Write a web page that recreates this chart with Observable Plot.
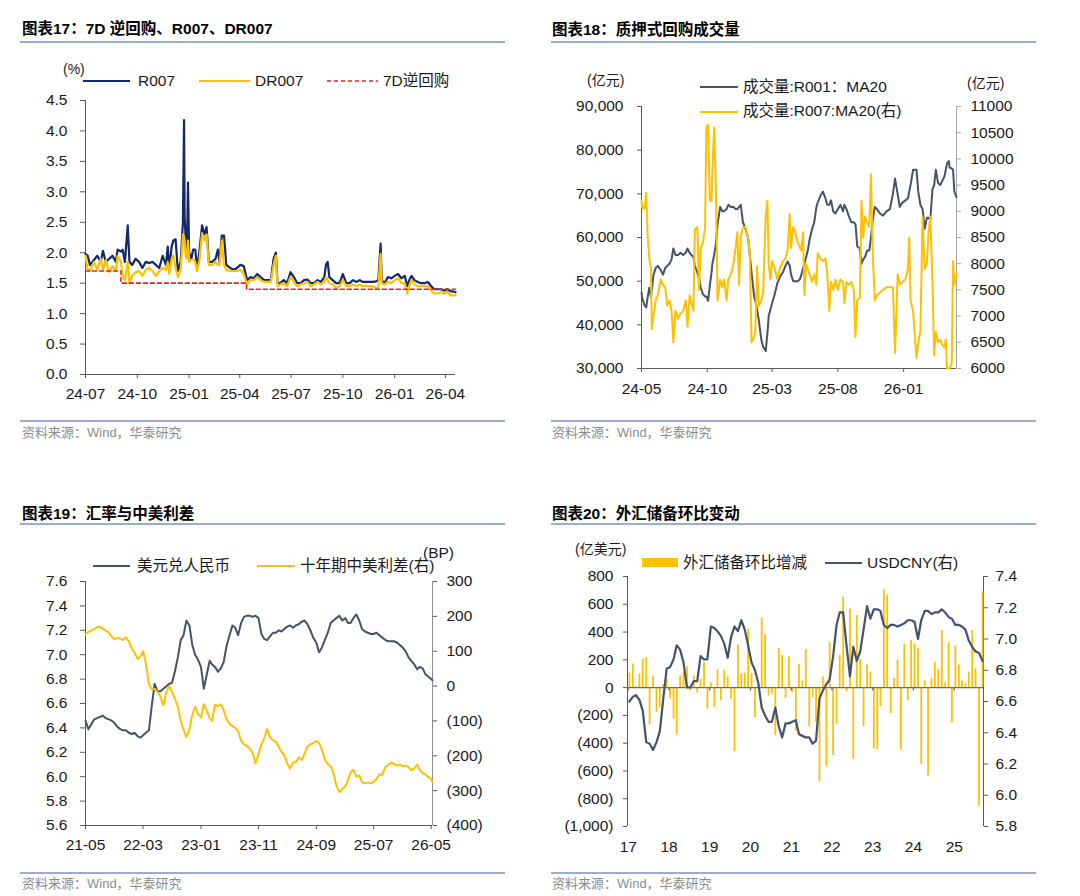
<!DOCTYPE html>
<html>
<head>
<meta charset="utf-8">
<script src="https://cdn.jsdelivr.net/npm/d3@7"></script>
<script src="https://cdn.jsdelivr.net/npm/@observablehq/plot@0.6"></script>
<style>
  html, body { margin: 0; background: #fff; }
  #page { position: relative; width: 1080px; height: 896px; overflow: hidden;
          font-family: "Liberation Sans", Arial, "Noto Sans CJK SC", sans-serif; color: #1a1a1a; }
</style>
</head>
<body>
<div id="page"></div>
<script>
// ---------------- 图表17: 7D逆回购、R007、DR007 (%) ----------------
const p1Dates = ["2024-07-01","2024-07-05","2024-07-09","2024-07-16","2024-07-22","2024-07-28","2024-08-01","2024-08-06","2024-08-12","2024-08-18","2024-08-24","2024-08-27",
"2024-09-02","2024-09-05","2024-09-09","2024-09-14","2024-09-17","2024-09-22","2024-09-28",
"2024-10-04","2024-10-10","2024-10-16","2024-10-22","2024-10-28",
"2024-11-03","2024-11-09","2024-11-15","2024-11-21","2024-11-24","2024-11-27",
"2024-12-01","2024-12-04","2024-12-08","2024-12-12","2024-12-17","2024-12-21","2024-12-23","2024-12-24","2024-12-26","2024-12-28","2024-12-30",
"2025-01-01","2025-01-05","2025-01-08","2025-01-12","2025-01-15","2025-01-19","2025-01-24","2025-01-28",
"2025-02-01","2025-02-05","2025-02-11","2025-02-17","2025-02-21","2025-02-24","2025-02-28",
"2025-03-04","2025-03-08","2025-03-15","2025-03-21","2025-03-27",
"2025-04-02","2025-04-08","2025-04-14","2025-04-20","2025-04-26",
"2025-05-02","2025-05-08","2025-05-14","2025-05-20","2025-05-26","2025-05-31",
"2025-06-04","2025-06-07","2025-06-12","2025-06-18","2025-06-24","2025-06-30",
"2025-07-06","2025-07-12","2025-07-18","2025-07-24","2025-07-30",
"2025-08-05","2025-08-11","2025-08-17","2025-08-23","2025-08-29",
"2025-09-01","2025-09-04","2025-09-07","2025-09-13","2025-09-19","2025-09-25",
"2025-10-01","2025-10-07","2025-10-13","2025-10-19","2025-10-25","2025-10-31",
"2025-11-05","2025-11-11","2025-11-17","2025-11-23","2025-11-29",
"2025-12-03","2025-12-07","2025-12-09","2025-12-14","2025-12-20","2025-12-26",
"2026-01-01","2026-01-07","2026-01-13","2026-01-19","2026-01-23","2026-01-27","2026-01-31",
"2026-02-05","2026-02-11","2026-02-17","2026-02-23",
"2026-03-01","2026-03-07","2026-03-12","2026-03-18","2026-03-24","2026-03-30",
"2026-04-04","2026-04-10","2026-04-16","2026-04-19"];
const r007 = [1.98,1.95,1.80,1.88,1.95,1.85,2.03,1.85,1.90,1.95,1.85,2.05,
2.02,2.05,1.85,2.45,1.85,1.80,1.90,
1.85,1.75,1.85,1.83,1.85,
1.80,1.75,1.95,1.80,2.10,1.75,
2.10,2.20,2.22,1.70,1.85,2.50,4.18,2.60,2.20,1.95,3.15,
2.00,1.90,2.05,2.05,1.75,2.00,2.45,2.30,
2.42,1.85,1.85,1.90,2.05,1.85,2.28,
2.28,1.80,1.75,1.72,1.75,
1.80,1.78,1.55,1.60,1.58,
1.65,1.60,1.55,1.55,1.55,1.90,
2.00,1.50,1.50,1.55,1.50,1.68,
1.60,1.50,1.50,1.55,1.56,
1.50,1.50,1.55,1.52,1.60,
1.80,1.85,1.60,1.55,1.50,1.50,
1.65,1.50,1.50,1.55,1.52,1.55,
1.52,1.52,1.52,1.52,1.53,
1.55,2.15,1.55,1.50,1.60,1.58,
1.62,1.65,1.58,1.62,1.45,1.55,1.62,
1.55,1.52,1.50,1.50,
1.52,1.45,1.40,1.40,1.40,1.38,
1.40,1.37,1.36,1.35];
const dr007 = [1.95,1.72,1.70,1.85,1.72,1.90,1.72,1.88,1.68,1.78,1.70,1.95,
1.85,1.62,1.55,1.85,1.50,1.62,1.68,
1.70,1.62,1.72,1.75,1.70,
1.62,1.70,1.75,1.72,1.85,1.65,
1.90,1.95,1.75,1.60,1.72,2.30,2.25,2.20,1.95,1.90,2.20,
1.85,1.88,1.90,1.85,1.70,1.85,2.32,2.20,
2.30,1.80,1.80,1.85,1.80,1.80,2.20,
1.80,1.72,1.70,1.70,1.70,
1.72,1.65,1.48,1.55,1.55,
1.60,1.55,1.52,1.52,1.52,1.80,
1.95,1.45,1.48,1.50,1.45,1.60,
1.52,1.45,1.48,1.50,1.52,
1.45,1.48,1.52,1.48,1.52,
1.60,1.55,1.50,1.48,1.42,1.45,
1.55,1.45,1.45,1.48,1.45,1.48,
1.45,1.46,1.45,1.45,1.42,
1.42,1.98,1.50,1.48,1.52,1.50,
1.55,1.58,1.50,1.50,1.33,1.45,1.55,
1.48,1.45,1.45,1.45,
1.45,1.38,1.33,1.33,1.35,1.33,
1.36,1.30,1.30,1.30];
const rrDates = ["2024-07-01","2024-09-02","2025-04-13","2026-04-19"];
const rrRates = [1.7, 1.5, 1.4, 1.4];
const p1Span = ["2024-07-01","2026-04-19"];
const p1Ticks = ["2024-07-01","2024-10-01","2025-01-01","2025-04-01","2025-07-01","2025-10-01","2026-01-01","2026-04-01"];
const p1YTicks = [0,0.5,1.0,1.5,2.0,2.5,3.0,3.5,4.0,4.5];

// ---------------- 图表18: 质押式回购成交量 (亿元) ----------------
const p2Dates = ["2024-05-01","2024-05-03","2024-05-08","2024-05-12","2024-05-15","2024-05-19","2024-05-23","2024-05-25","2024-05-29","2024-06-03",
"2024-06-08","2024-06-15","2024-06-20","2024-06-25","2024-06-30","2024-07-05","2024-07-10","2024-07-14","2024-07-19","2024-07-25",
"2024-07-31","2024-08-06","2024-08-12","2024-08-16","2024-08-21","2024-08-25","2024-08-30","2024-09-02","2024-09-08","2024-09-12",
"2024-09-16","2024-09-21","2024-09-26","2024-09-29","2024-10-03","2024-10-07","2024-10-11","2024-10-13","2024-10-17","2024-10-21",
"2024-10-25","2024-10-31","2024-11-05","2024-11-09","2024-11-15","2024-11-19","2024-11-25","2024-12-01","2024-12-06","2024-12-10",
"2024-12-14","2024-12-18","2024-12-23","2024-12-29","2025-01-04","2025-01-08","2025-01-12","2025-01-18","2025-01-21","2025-01-25",
"2025-01-29","2025-02-04","2025-02-08","2025-02-14","2025-02-18","2025-02-21","2025-02-25","2025-03-01","2025-03-07","2025-03-13",
"2025-03-19","2025-03-26","2025-04-01","2025-04-06","2025-04-11","2025-04-14","2025-04-19","2025-04-24","2025-04-30","2025-05-05",
"2025-05-08","2025-05-12","2025-05-15","2025-05-19","2025-05-23","2025-05-27","2025-06-02","2025-06-07","2025-06-12","2025-06-15",
"2025-06-21","2025-06-27","2025-07-03","2025-07-07","2025-07-12","2025-07-16","2025-07-21","2025-07-26","2025-08-01","2025-08-07",
"2025-08-13","2025-08-16","2025-08-21","2025-08-26","2025-09-01","2025-09-07","2025-09-11","2025-09-15","2025-09-21","2025-09-25",
"2025-09-29","2025-10-03","2025-10-08","2025-10-13","2025-10-17","2025-10-21","2025-10-26","2025-10-31","2025-11-07","2025-11-14",
"2025-11-22","2025-11-30","2025-12-07","2025-12-12","2025-12-18","2025-12-23","2025-12-29","2026-01-05","2026-01-11","2026-01-14",
"2026-01-17","2026-01-23","2026-01-28","2026-01-31","2026-02-04","2026-02-09","2026-02-14","2026-02-19","2026-02-24","2026-02-28",
"2026-03-04","2026-03-09","2026-03-13","2026-03-17","2026-03-22","2026-03-27","2026-04-01","2026-04-06","2026-04-09","2026-04-12",
"2026-04-16","2026-04-18","2026-04-23","2026-04-26","2026-04-29","2026-05-04"];
const r001Ma20 = [47400,46000,44500,44000,46000,48500,46500,48000,51500,53000,
53500,52500,51500,53000,53500,54000,55000,57500,56000,56000,
56500,56000,56500,57500,56500,56000,55500,53500,52000,50500,
48500,47000,46500,46500,45500,49000,52000,54000,56000,58500,
63000,67000,66000,66000,66500,67500,67000,67000,66500,66500,
67000,67500,63500,62000,60000,56000,52000,46500,45500,43500,
41000,36500,35000,34000,38000,42000,43500,45000,47000,49500,
51000,52000,53500,54500,53500,51500,50000,50000,50000,50500,
51500,53000,54000,55500,57000,59500,62000,63500,67000,68000,
69500,70500,69000,67500,67500,68500,66000,65500,66500,67500,
66000,67500,66500,65000,63500,63500,63000,58000,57500,54000,
55000,55500,57000,57000,60000,64000,67000,66500,65500,65000,
66000,66500,70000,73500,70000,67000,68000,68500,69000,70500,
72000,75500,75500,75500,70500,67500,66500,62000,64500,64500,
64000,71000,72000,75500,72500,72000,73000,74000,75500,77000,
77500,76000,75800,75500,70500,69300];
const r007Ma20 = [9200,9050,9050,9350,8600,8100,7900,6750,7000,7300,
7400,7700,7600,7550,7200,7300,7100,6500,7100,6950,
7050,7100,7300,6800,7400,7250,7100,8650,8700,7500,
8300,8400,8700,10600,10650,9200,9200,9800,10600,9500,
7300,7700,7550,7700,7300,7700,7800,8000,8300,8600,
7600,8500,8700,8700,8500,8200,6500,6600,6700,7950,
7200,7300,7450,8900,9200,8000,7700,8050,7900,7700,
7900,8050,8100,8250,8950,8300,8700,8600,8400,8300,
8250,8600,7400,8000,7900,7800,7650,7800,7600,8200,
8100,8050,8100,7850,7100,7650,7500,7700,7500,7700,
7650,7250,7650,7600,7650,7500,6600,7300,7350,9200,
8500,8900,8800,8700,9700,8200,7300,7400,7450,7500,
7550,7550,7550,6300,7800,7600,7650,7700,7900,8500,
7300,7100,6500,6200,6500,6700,8900,7900,8000,8600,
8900,7700,6250,6700,6500,6550,6450,6400,6550,6000,
6000,6000,6100,8050,7600,7800];
const p2Span = ["2024-05-01","2026-05-04"];
const p2Ticks = ["2024-05-01","2024-10-01","2025-03-01","2025-08-01","2026-01-01"];
const p2LeftTicks = [30000,40000,50000,60000,70000,80000,90000];
const p2RightTicks = [6000,6500,7000,7500,8000,8500,9000,9500,10000,10500,11000];

// ---------------- 图表19: 汇率与中美利差 ----------------
const p3Dates = ["2021-05-01","2021-05-16","2021-06-01","2021-06-16","2021-07-01","2021-07-16","2021-08-01","2021-08-16","2021-09-01","2021-09-16","2021-10-01","2021-10-16","2021-11-01","2021-11-16","2021-12-01","2021-12-16",
"2022-01-01","2022-01-16","2022-02-01","2022-02-16","2022-03-01","2022-03-16","2022-04-01","2022-04-16","2022-05-01","2022-05-16","2022-06-01","2022-06-16","2022-07-01","2022-07-16","2022-08-01","2022-08-16","2022-09-01","2022-09-16","2022-10-01","2022-10-16","2022-11-01","2022-11-16","2022-12-01","2022-12-16",
"2023-01-01","2023-01-16","2023-02-01","2023-02-16","2023-03-01","2023-03-16","2023-04-01","2023-04-16","2023-05-01","2023-05-16","2023-06-01","2023-06-16","2023-07-01","2023-07-16","2023-08-01","2023-08-16","2023-09-01","2023-09-16","2023-10-01","2023-10-16","2023-11-01","2023-11-16","2023-12-01","2023-12-16",
"2024-01-01","2024-01-16","2024-02-01","2024-02-16","2024-03-01","2024-03-16","2024-04-01","2024-04-16","2024-05-01","2024-05-16","2024-06-01","2024-06-16","2024-07-01","2024-07-16","2024-08-01","2024-08-16","2024-09-01","2024-09-16","2024-10-01","2024-10-16","2024-11-01","2024-11-16","2024-12-01","2024-12-16",
"2025-01-01","2025-01-16","2025-02-01","2025-02-16","2025-03-01","2025-03-16","2025-04-01","2025-04-16","2025-05-01","2025-05-16","2025-06-01","2025-06-16","2025-07-01","2025-07-16","2025-08-01","2025-08-16","2025-09-01","2025-09-16","2025-10-01","2025-10-16","2025-11-01","2025-11-16","2025-12-01","2025-12-16",
"2026-01-01","2026-01-16","2026-02-01","2026-02-16","2026-03-01","2026-03-16","2026-04-01","2026-04-16","2026-05-01","2026-05-08"];
const usdCny = [6.46,6.39,6.43,6.47,6.48,6.49,6.50,6.48,6.47,6.46,
6.44,6.41,6.39,6.38,6.38,6.36,6.35,6.36,6.33,6.32,
6.34,6.36,6.38,6.58,6.76,6.70,6.70,6.72,6.74,6.76,
6.77,6.86,6.98,7.12,7.16,7.28,7.24,7.08,7.00,6.96,
6.90,6.72,6.84,6.95,6.92,6.90,6.86,6.89,6.94,7.07,
7.16,7.24,7.22,7.16,7.26,7.31,7.32,7.32,7.31,7.32,
7.30,7.17,7.13,7.12,7.15,7.18,7.18,7.20,7.19,7.21,
7.23,7.24,7.22,7.24,7.25,7.27,7.28,7.25,7.20,7.14,
7.10,7.02,7.06,7.12,7.18,7.26,7.28,7.30,7.32,7.28,
7.30,7.26,7.26,7.30,7.33,7.28,7.21,7.19,7.18,7.17,
7.17,7.18,7.16,7.14,7.12,7.11,7.11,7.11,7.10,7.08,
7.06,7.03,6.98,6.95,6.92,6.88,6.90,6.89,6.84,6.82,
6.80,6.79];
const cnUsSpread10y = [149,155,160,164,168,170,164,159,154,142,
135,138,136,132,140,128,108,95,78,85,
100,65,6,-9,-8,-16,-30,-55,-20,0,
-16,-35,-60,-100,-125,-146,-125,-82,-60,-80,
-90,-52,-72,-92,-100,-53,-58,-52,-70,-95,
-108,-115,-120,-130,-156,-167,-172,-180,-192,-222,
-195,-168,-150,-123,-147,-155,-160,-175,-188,-198,
-223,-237,-220,-218,-205,-212,-195,-174,-167,-164,
-158,-163,-183,-211,-224,-230,-250,-285,-305,-295,
-288,-270,-248,-240,-260,-256,-276,-279,-277,-279,
-274,-267,-253,-255,-232,-226,-220,-223,-228,-224,
-230,-229,-232,-242,-236,-225,-240,-250,-253,-261,
-266,-276];
const p3Span = ["2021-05-01","2026-05-08"];
const p3Ticks = ["2021-05-01","2022-03-01","2023-01-01","2023-11-01","2024-09-01","2025-07-01","2026-05-01"];
const p3LeftTicks = [5.6,5.8,6.0,6.2,6.4,6.6,6.8,7.0,7.2,7.4,7.6];
const p3RightTicks = [-400,-300,-200,-100,0,100,200,300];

// ---------------- 图表20: 外汇储备环比变动 ----------------
const fxMonths = ["2017-01","2017-02","2017-03","2017-04","2017-05","2017-06","2017-07","2017-08","2017-09","2017-10","2017-11","2017-12",
"2018-01","2018-02","2018-03","2018-04","2018-05","2018-06","2018-07","2018-08","2018-09","2018-10","2018-11","2018-12",
"2019-01","2019-02","2019-03","2019-04","2019-05","2019-06","2019-07","2019-08","2019-09","2019-10","2019-11","2019-12",
"2020-01","2020-02","2020-03","2020-04","2020-05","2020-06","2020-07","2020-08","2020-09","2020-10","2020-11","2020-12",
"2021-01","2021-02","2021-03","2021-04","2021-05","2021-06","2021-07","2021-08","2021-09","2021-10","2021-11","2021-12",
"2022-01","2022-02","2022-03","2022-04","2022-05","2022-06","2022-07","2022-08","2022-09","2022-10","2022-11","2022-12",
"2023-01","2023-02","2023-03","2023-04","2023-05","2023-06","2023-07","2023-08","2023-09","2023-10","2023-11","2023-12",
"2024-01","2024-02","2024-03","2024-04","2024-05","2024-06","2024-07","2024-08","2024-09","2024-10","2024-11","2024-12",
"2025-01","2025-02","2025-03","2025-04","2025-05","2025-06","2025-07","2025-08","2025-09"];
const fxReserveChg = [105,170,8,98,205,215,-270,84,-180,-142,
20,58,-82,-228,-340,84,108,150,-25,84,
-38,60,182,-155,36,-143,131,-96,124,76,
-84,-461,306,100,105,418,100,-215,5,502,
382,-60,-48,-347,282,232,-76,220,-36,-315,
167,48,275,-282,-76,-250,-681,76,-566,327,
-490,-263,232,650,-30,566,-514,520,203,-280,
163,112,-442,-449,-136,705,662,-186,65,198,
-447,311,-96,339,315,280,-552,48,-636,67,
182,131,411,33,323,-251,299,163,48,29,
112,411,136,-850,690];
const fxUsdCny = [6.60,6.63,6.64,6.61,6.54,6.34,6.33,6.29,6.34,6.41,
6.62,6.81,6.82,6.87,6.96,6.93,6.85,6.69,6.69,6.73,
6.73,6.89,6.87,6.87,7.08,7.07,7.05,7.02,6.97,6.88,
7.01,7.08,7.05,7.12,7.06,6.96,6.85,6.80,6.72,6.56,
6.51,6.47,6.47,6.56,6.44,6.37,6.46,6.46,6.47,6.48,
6.39,6.38,6.37,6.37,6.33,6.35,6.62,6.67,6.71,6.74,
6.89,7.09,7.17,7.17,6.96,6.76,6.95,6.86,6.92,7.06,
7.21,7.13,7.19,7.19,7.18,7.09,7.07,7.09,7.09,7.08,
7.09,7.10,7.12,7.12,7.11,7.00,7.12,7.18,7.18,7.16,
7.17,7.17,7.19,7.17,7.14,7.13,7.09,7.09,7.08,7.06,
6.99,6.95,6.92,6.91,6.86];
const p4Span = ["2016-12-25","2025-09-20"];
const p4Ticks = ["2017-01-01","2018-01-01","2019-01-01","2020-01-01","2021-01-01","2022-01-01","2023-01-01","2024-01-01","2025-01-01"];
const p4LeftTicks = [-1000,-800,-600,-400,-200,0,200,400,600,800];
const p4RightTicks = [5.8,6.0,6.2,6.4,6.6,6.8,7.0,7.2,7.4];

// ---------------- styling ----------------
const NAVY = "#14296b", GOLD = "#ffc000", RED = "#e0262b", SLATE = "#44546a";
const AXIS = "#595959", AXIS_LIGHT = "#a6a6a6", RULE = "#98aecb";
const FONT = "'Liberation Sans', Arial, 'Noto Sans CJK SC', sans-serif";
const plotStyle = {fontFamily: FONT, fontSize: "15.5px", color: "#1a1a1a", background: "none", overflow: "visible"};
const ym = d3.utcFormat("%y-%m");
const acct = d3.format(",");
const fmtAcct = v => v < 0 ? `(${acct(-v)})` : acct(v);
const asDates = a => a.map(s => new Date(s));

const page = document.getElementById("page");
function put(el, x, y) {
  el.style.position = "absolute";
  el.style.left = x + "px";
  el.style.top = y + "px";
  page.appendChild(el);
  return el;
}
function text(str, x, cy, {size = 15.5, color = "#1a1a1a", weight = 400} = {}) {
  const d = document.createElement("div");
  d.textContent = str;
  d.style.cssText = `font-size:${size}px;line-height:${size * 1.2}px;color:${color};font-weight:${weight};white-space:nowrap;`;
  return put(d, x, cy - size * 0.6);
}
function hline(x1, x2, y, color, width = 2) {
  const d = document.createElement("div");
  d.style.cssText = `width:${x2 - x1}px;height:${width}px;background:${color};`;
  return put(d, x1, y - width / 2);
}
function swatch(x1, x2, y, color, {width = 2, dash = null} = {}) {
  const ns = "http://www.w3.org/2000/svg";
  const s = document.createElementNS(ns, "svg");
  s.setAttribute("width", x2 - x1);
  s.setAttribute("height", 6);
  const l = document.createElementNS(ns, "line");
  l.setAttribute("x1", 0); l.setAttribute("x2", x2 - x1);
  l.setAttribute("y1", 3); l.setAttribute("y2", 3);
  l.setAttribute("stroke", color); l.setAttribute("stroke-width", width);
  if (dash) l.setAttribute("stroke-dasharray", dash);
  s.appendChild(l);
  return put(s, x1, y - 3);
}
function box(x, y, w, h, color) {
  const d = document.createElement("div");
  d.style.cssText = `width:${w}px;height:${h}px;background:${color};`;
  return put(d, x, y);
}
function place(svg, x, y, w) {
  const d = document.createElement("div");
  d.style.width = w + "px";
  d.appendChild(svg);
  return put(d, x, y);
}

// ---------------- chart 17 ----------------
{
  const rows = p1Dates.map((d, i) => ({date: new Date(d), r007: r007[i], dr007: dr007[i]}));
  const rr = rrDates.map((d, i) => ({date: new Date(d), rate: rrRates[i]}));
  const xd = asDates(p1Span);
  const chart = Plot.plot({
    width: 540, height: 370, marginLeft: 85, marginRight: 85, marginTop: 50, marginBottom: 46,
    style: plotStyle,
    x: {type: "utc", domain: xd},
    y: {domain: [0, 4.5]},
    marks: [
      Plot.axisY({ticks: p1YTicks, tickSize: 5, tickPadding: 13, tickFormat: d3.format(".1f"), label: null, stroke: AXIS}),
      Plot.axisX({ticks: asDates(p1Ticks), tickSize: 4, tickPadding: 9, tickFormat: ym, label: null, stroke: AXIS}),
      Plot.ruleX([xd[0]], {stroke: AXIS}),
      Plot.ruleY([0], {stroke: AXIS}),
      Plot.line(rows, {x: "date", y: "r007", stroke: NAVY, strokeWidth: 2.2}),
      Plot.line(rows, {x: "date", y: "dr007", stroke: GOLD, strokeWidth: 2.2}),
      Plot.line(rr, {x: "date", y: "rate", curve: "step-after", stroke: RED, strokeWidth: 1.6, strokeDasharray: "4,3"})
    ]
  });
  place(chart, 0, 50, 540);
}

// ---------------- chart 18 ----------------
{
  const rows = p2Dates.map((d, i) => ({date: new Date(d), r001: r001Ma20[i], r007: r007Ma20[i]}));
  const xd = asDates(p2Span);
  const leftDom = d3.extent(p2LeftTicks), rightDom = d3.extent(p2RightTicks);
  const toLeft = d3.scaleLinear(rightDom, leftDom); // right-axis units → left-axis units
  const chart = Plot.plot({
    width: 540, height: 370, marginLeft: 101, marginRight: 124, marginTop: 56, marginBottom: 52,
    style: plotStyle,
    x: {type: "utc", domain: xd},
    y: {domain: leftDom},
    marks: [
      Plot.axisY({ticks: p2LeftTicks, tickSize: 4, tickPadding: 14, tickFormat: acct, label: null, stroke: AXIS}),
      Plot.axisY({anchor: "right", ticks: p2RightTicks.map(toLeft), tickSize: 4, tickPadding: 10,
                  tickFormat: d => String(Math.round(toLeft.invert(d))), label: null, stroke: AXIS_LIGHT}),
      Plot.axisX({ticks: asDates(p2Ticks), tickSize: 4, tickPadding: 10, tickFormat: ym, label: null, stroke: AXIS}),
      Plot.ruleX([xd[0]], {stroke: AXIS}),
      Plot.ruleX([xd[1]], {stroke: AXIS_LIGHT}),
      Plot.ruleY([leftDom[0]], {stroke: AXIS}),
      Plot.line(rows, {x: "date", y: "r001", stroke: SLATE, strokeWidth: 2}),
      Plot.line(rows, {x: "date", y: d => toLeft(d.r007), stroke: GOLD, strokeWidth: 2})
    ]
  });
  place(chart, 540, 50, 540);
}

// ---------------- chart 19 ----------------
{
  const rows = p3Dates.map((d, i) => ({date: new Date(d), fx: usdCny[i], spread: cnUsSpread10y[i]}));
  const xd = asDates(p3Span);
  const leftDom = d3.extent(p3LeftTicks), rightDom = d3.extent(p3RightTicks);
  const toLeft = d3.scaleLinear(rightDom, leftDom);
  const chart = Plot.plot({
    width: 540, height: 350, marginLeft: 85, marginRight: 108, marginTop: 51, marginBottom: 55,
    style: plotStyle,
    x: {type: "utc", domain: xd},
    y: {domain: leftDom},
    marks: [
      Plot.axisY({ticks: p3LeftTicks, tickSize: 5, tickPadding: 13, tickFormat: d3.format(".1f"), label: null, stroke: AXIS}),
      Plot.axisY({anchor: "right", ticks: p3RightTicks.map(toLeft), tickSize: 4, tickPadding: 10,
                  tickFormat: d => fmtAcct(Math.round(toLeft.invert(d))), label: null, stroke: AXIS}),
      Plot.axisX({ticks: asDates(p3Ticks), tickSize: 4, tickPadding: 9, tickFormat: ym, label: null, stroke: AXIS}),
      Plot.ruleX([xd[0]], {stroke: AXIS}),
      Plot.ruleX([xd[1]], {stroke: "#8c8c8c"}),
      Plot.ruleY([leftDom[0]], {stroke: AXIS}),
      Plot.line(rows, {x: "date", y: "fx", stroke: SLATE, strokeWidth: 2}),
      Plot.line(rows, {x: "date", y: d => toLeft(d.spread), stroke: GOLD, strokeWidth: 2})
    ]
  });
  place(chart, 0, 530, 540);
}

// ---------------- chart 20 ----------------
{
  // each month's column sits a third of the way into its month slot
  const rows = fxMonths.map((m, i) => ({date: new Date(m + "-11"), chg: fxReserveChg[i], fx: fxUsdCny[i]}));
  const xd = asDates(p4Span);
  const leftDom = d3.extent(p4LeftTicks), rightDom = d3.extent(p4RightTicks);
  const toLeft = d3.scaleLinear(rightDom, leftDom);
  const years = asDates(p4Ticks);
  const chart = Plot.plot({
    width: 540, height: 350, marginLeft: 87, marginRight: 97, marginTop: 46, marginBottom: 54,
    style: plotStyle,
    x: {type: "utc", domain: xd},
    y: {domain: leftDom},
    marks: [
      Plot.axisY({ticks: p4LeftTicks, tickSize: 4, tickPadding: 10, tickFormat: fmtAcct, label: null, stroke: AXIS}),
      Plot.axisY({anchor: "right", ticks: p4RightTicks.map(toLeft), tickSize: 4, tickPadding: 8,
                  tickFormat: d => toLeft.invert(d).toFixed(1), label: null, stroke: AXIS}),
      Plot.axisX({ticks: years, tickSize: 0, tickPadding: 14, tickFormat: d3.utcFormat("%y"), label: null}),
      Plot.ruleX([xd[0]], {stroke: AXIS}),
      Plot.ruleX([xd[1]], {stroke: AXIS}),
      Plot.ruleX(rows, {x: "date", y1: 0, y2: "chg", stroke: GOLD, strokeWidth: 1.8}),
      Plot.ruleY([0], {stroke: "#6b6b6b", strokeWidth: 1.3}),
      // short year ticks hanging below the zero line (length in y units)
      Plot.ruleX(years, {y1: 0, y2: -24, stroke: "#6b6b6b", strokeWidth: 1.3}),
      Plot.line(rows, {x: "date", y: d => toLeft(d.fx), stroke: SLATE, strokeWidth: 2.2})
    ]
  });
  place(chart, 540, 530, 540);
}

// ---------------- titles, legends, sources ----------------
const TITLE = {size: 15.5, color: "#000", weight: 700};
const SRC = {size: 13, color: "#8c8c8c"};

text("图表17：7D 逆回购、R007、DR007", 22, 29.5, TITLE);
hline(20, 505, 41.5, RULE);
text("(%)", 63, 69, {size: 14});
swatch(83, 130, 81, NAVY);
text("R007", 138, 81);
swatch(199, 250, 81, GOLD);
text("DR007", 255, 81);
swatch(327, 378, 81, RED, {width: 1.6, dash: "4,3"});
text("7D逆回购", 383, 81);
hline(20, 505, 421, RULE);
text("资料来源：Wind，华泰研究", 22, 433, SRC);

text("图表18：质押式回购成交量", 552, 30, TITLE);
hline(551, 1036, 41.5, RULE);
text("(亿元)", 587, 80, {size: 14});
text("(亿元)", 967, 83, {size: 14});
swatch(700, 738, 87, SLATE);
text("成交量:R001：MA20", 743, 87);
swatch(700, 738, 111.5, GOLD);
text("成交量:R007:MA20(右)", 743, 111.5);
hline(551, 1036, 421, RULE);
text("资料来源：Wind，华泰研究", 552, 433, SRC);

text("图表19：汇率与中美利差", 22, 514, TITLE);
hline(20, 505, 523.5, RULE);
swatch(93, 130, 566, SLATE);
text("美元兑人民币", 137, 566);
swatch(257, 295, 566, GOLD);
text("十年期中美利差(右)", 300, 566);
text("(BP)", 423, 553);
hline(20, 505, 873, RULE);
text("资料来源：Wind，华泰研究", 22, 884, SRC);

text("图表20：外汇储备环比变动", 552, 514, TITLE);
hline(551, 1036, 523.5, RULE);
text("(亿美元)", 575, 549, {size: 14});
box(642, 558, 36, 9, GOLD);
text("外汇储备环比增减", 683, 563);
swatch(825, 862, 563, SLATE);
text("USDCNY(右)", 867, 563);
hline(551, 1036, 873, RULE);
text("资料来源：Wind，华泰研究", 552, 884, SRC);
</script>
</body>
</html>
